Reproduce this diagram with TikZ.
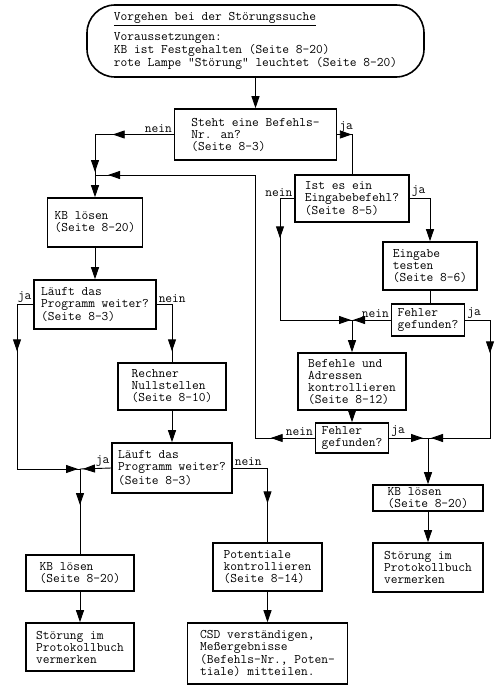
\documentclass[tikz,border=0pt]{standalone}
\usepackage{fontspec}
\usetikzlibrary{arrows.meta,positioning,decorations.markings}
\newcommand{\boxfont}{\ttfamily\fontsize{13.1}{12}\selectfont}
\tikzset{
    >={Triangle[length=12pt,width=8pt]},
    every picture/.style={line width=0.9pt},
    stepbox/.style={draw,line width=1.6pt,align=left,inner sep=0pt,font=\boxfont},
    answer/.style={inner sep=1.5pt,font=\boxfont},
    tipat/.style={postaction={decorate,decoration={markings,mark=at position #1 with {\arrow{>}}}}}
}

\begin{document}
\begin{tikzpicture}[x=1pt,y=-1pt]
    \useasboundingbox (0,0) rectangle (500,698);
    % Kopf
    \node[stepbox,rounded corners=28pt,minimum width=337pt,minimum height=72pt] (start) at (255.5,41)
        {\underline{Vorgehen bei der Störungssuche}\\[6pt]
         Voraussetzungen:\\
         KB ist Festgehalten (Seite 8-20)\\
         rote Lampe "Störung" leuchtet (Seite 8-20)};
    % rechte Seite
    \node[stepbox,minimum width=162pt,minimum height=51pt] (befnr) at (255.5,134.5) {Steht eine Befehls-\\Nr. an?\\(Seite 8-3)};
    \node[stepbox,minimum width=114pt,minimum height=47pt] (eingabe) at (352,198.5) {Ist es ein\\Eingabebefehl?\\(Seite 8-5)};
    \node[stepbox,minimum width=94pt,minimum height=48pt] (testen) at (430,266) {Eingabe\\testen\\(Seite 8-6)};
    \node[stepbox,minimum width=73pt,minimum height=32pt] (fehlerA) at (428,320) {Fehler\\gefunden?};
    \node[stepbox,minimum width=108pt,minimum height=57pt] (adressen) at (352,381.5) {Befehle und\\Adressen\\kontrollieren\\(Seite 8-12)};
    \node[stepbox,minimum width=73pt,minimum height=30pt] (fehlerB) at (352,438) {Fehler\\gefunden?};
    \node[stepbox,minimum width=110pt,minimum height=26pt] (kbR) at (428,498) {KB lösen\\(Seite 8-20)};
    \node[stepbox,minimum width=110pt,minimum height=49pt] (protR) at (428,567.5) {Störung im\\Protokollbuch\\vermerken};
    % linke Seite
    \node[stepbox,minimum width=95pt,minimum height=49pt] (kbL) at (95,222.5) {KB lösen\\(Seite 8-20)};
    \node[stepbox,minimum width=122pt,minimum height=49pt] (laeuftA) at (95,304.5) {Läuft das\\Programm weiter?\\(Seite 8-3)};
    \node[stepbox,minimum width=108pt,minimum height=47pt] (nullst) at (172,386.5) {Rechner\\Nullstellen\\(Seite 8-10)};
    \node[stepbox,minimum width=120pt,minimum height=50pt] (laeuftB) at (172,468) {Läuft das\\Programm weiter?\\(Seite 8-3)};
    \node[stepbox,minimum width=108pt,minimum height=36pt] (kbU) at (80,573) {KB lösen\\(Seite 8-20)};
    \node[stepbox,minimum width=108pt,minimum height=48pt] (protL) at (80,647) {Störung im\\Protokollbuch\\vermerken};
    \node[stepbox,minimum width=109pt,minimum height=48pt] (potent) at (267.5,567) {Potentiale\\kontrollieren\\(Seite 8-14)};
    \node[stepbox,minimum width=160pt,minimum height=61pt] (csd) at (267.5,653.5) {CSD verständigen,\\Meßergebnisse\\(Befehls-Nr., Poten-\\tiale) mitteilen.};
    % ja / nein
    \node[answer,anchor=south east] (neinA) at (befnr.west) {nein};
    \node[answer,anchor=south west] (jaA) at (befnr.east) {ja};
    \node[answer,anchor=south east] (neinB) at (eingabe.west) {nein};
    \node[answer,anchor=south west] (jaB) at (eingabe.east) {ja};
    \node[answer,anchor=south east] (neinC) at (fehlerA.west) {nein};
    \node[answer,anchor=south west] (jaC) at (fehlerA.east) {ja};
    \node[answer,anchor=south east] (neinD) at (fehlerB.west) {nein};
    \node[answer,anchor=south west] (jaD) at (fehlerB.east) {ja};
    \node[answer,anchor=south east] (jaE) at (laeuftA.west) {ja};
    \node[answer,anchor=south west] (neinE) at (laeuftA.east) {nein};
    \node[answer,anchor=south east] (jaF) at (laeuftB.west) {ja};
    \node[answer,anchor=south west] (neinF) at (laeuftB.east) {nein};
    % Knoten und Ecken
    \coordinate (jA) at (95,175);
    \coordinate (jB) at (352,320);
    \coordinate (jC) at (428,438);
    \coordinate (jD) at (80,469);
    \coordinate (cL) at (255,175);
    \coordinate (cB) at (280,320);
    \coordinate (cC) at (490,438);
    \coordinate (cD) at (17,469);
    % Verbindungen
    \draw[->] (start) -- (befnr);
    \draw[tipat=61pt,tipat=-3pt] (befnr.west) -- (jA |- befnr.west) -- (jA);
    \draw[->] (jA) -- (kbL);
    \draw[tipat=44pt,tipat=-13pt] (fehlerB.west) -- (cL |- fehlerB.west) -- (cL) -- (jA);
    \draw[tipat=14.5pt] (befnr.east) -- (eingabe.north |- befnr.east) -- (eingabe.north);
    \draw[tipat=54pt,tipat=-1pt] (eingabe.west) -- (cB |- eingabe.west) -- (cB) -- (jB);
    \draw[->] (eingabe.east) -- (testen.north |- eingabe.east) -- (testen.north);
    \draw (testen.south) -- (testen.south |- fehlerA.north);
    \draw[tipat=-1pt] (fehlerA.west) -- (jB);
    \draw[->] (jB) -- (adressen);
    \draw[tipat=58pt,tipat=-3pt] (fehlerA.east) -- (cC |- fehlerA.east) -- (cC) -- (jC);
    \draw[->] (adressen) -- (fehlerB);
    \draw[tipat=-5pt] (fehlerB.east) -- (jC);
    \draw[->] (jC) -- (kbR);
    \draw[->] (kbR) -- (protR);
    \draw[->] (kbL) -- (laeuftA);
    \draw[tipat=63pt,tipat=-2pt] (laeuftA.west) -- (cD |- laeuftA.west) -- (cD) -- (jD);
    \draw[tipat=62pt] (laeuftA.east) -- (nullst.north |- laeuftA.east) -- (nullst.north);
    \draw[->] (nullst) -- (laeuftB);
    \draw[tipat=-3pt] (laeuftB.west) -- (jD);
    \draw[tipat=36pt] (jD) -- (kbU);
    \draw[tipat=70pt] (laeuftB.east) -- (potent.north |- laeuftB.east) -- (potent.north);
    \draw[->] (kbU) -- (protL);
    \draw[->] (potent) -- (csd);
\end{tikzpicture}
\end{document}
